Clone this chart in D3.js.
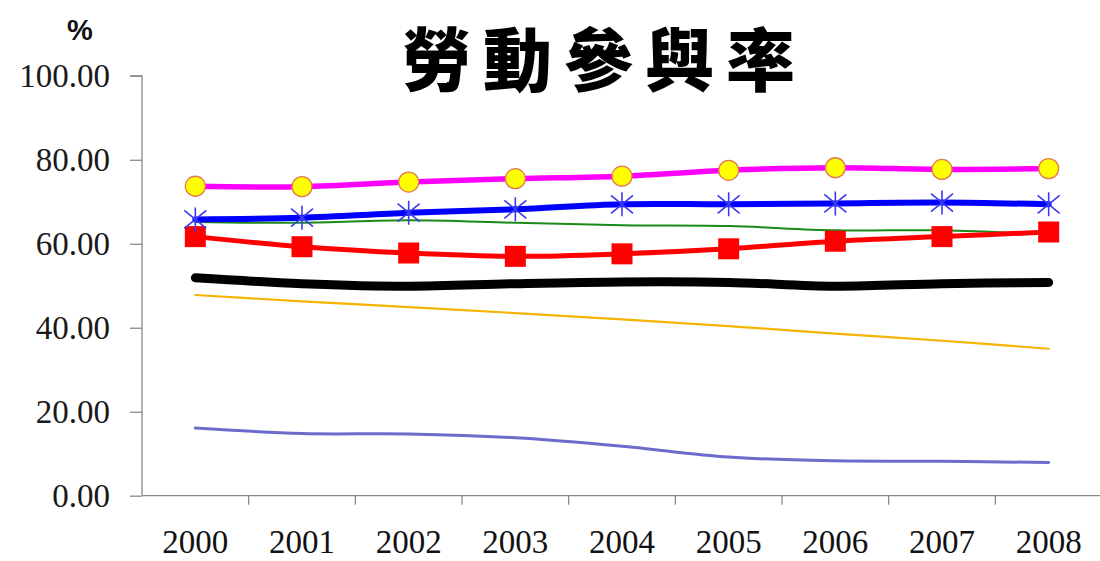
<!DOCTYPE html>
<html>
<head>
<meta charset="utf-8">
<script src="https://cdn.jsdelivr.net/npm/d3@7"></script>
<style>
  html, body { margin: 0; padding: 0; background: #fff; }
  svg { display: block; }
</style>
</head>
<body>
<svg id="chart" width="1100" height="561"></svg>
<script>
// ---- data ----
const years = ["2000", "2001", "2002", "2003", "2004", "2005", "2006", "2007", "2008"];
const yTicks = [0, 20, 40, 60, 80, 100];
const magentaCircle = [73.7, 73.6, 74.7, 75.5, 76.1, 77.5, 78.1, 77.7, 77.9];
const blueStar     = [65.8, 66.2, 67.4, 68.2, 69.4, 69.4, 69.6, 69.8, 69.4];
const greenThin    = [65.2, 65.0, 65.6, 65.0, 64.4, 64.2, 63.2, 63.2, 62.2];
const redSquare    = [61.7, 59.3, 57.8, 57.0, 57.6, 58.8, 60.6, 61.7, 62.8];
const blackThick   = [51.9, 50.5, 49.9, 50.5, 50.9, 50.8, 49.9, 50.5, 50.8];
const orangeThin   = [47.8, 46.3, 44.9, 43.5, 42.0, 40.4, 38.6, 36.9, 35.0];
const purpleThin   = [16.1, 14.8, 14.7, 13.8, 11.8, 9.2, 8.3, 8.2, 7.9];
const titleText = "勞動參與率";
const unitText = "%";

const svg = d3.select("#chart");

const x = d3.scaleBand().domain(years).range([142, 1102]).padding(0);
const y = d3.scaleLinear().domain([0, 100]).range([495.7, 75.8]);
const cx = d => x(d) + x.bandwidth() / 2;

// title
svg.append("text")
  .attr("x", 402).attr("y", 86)
  .attr("font-family", "'Noto Sans CJK TC', 'Noto Sans CJK SC', sans-serif")
  .attr("font-weight", 900)
  .attr("font-size", 69)
  .attr("letter-spacing", 12)
  .attr("fill", "#000")
  .text(titleText);

// unit
svg.append("text")
  .attr("x", 80).attr("y", 40)
  .attr("text-anchor", "middle")
  .attr("font-family", "'Liberation Sans', Arial, sans-serif")
  .attr("font-weight", "bold")
  .attr("font-size", 29)
  .attr("fill", "#111")
  .text(unitText);

// y axis
const yAxis = svg.append("g")
  .attr("transform", "translate(142,0)")
  .call(d3.axisLeft(y).tickValues(yTicks).tickFormat(d3.format(".2f")).tickSize(12).tickPadding(20));
yAxis.selectAll("path, line").attr("stroke", "#8a8a8a").attr("stroke-width", 1.3);
yAxis.selectAll("text")
  .attr("font-family", "'Liberation Serif', 'Times New Roman', serif")
  .attr("font-size", 33)
  .attr("fill", "#1a1a1a");
yAxis.select(".domain").attr("d", `M-12,${y(100)}H0V${y(0)}`);

// x axis
const xAxis = svg.append("g")
  .attr("transform", `translate(0,${y(0)})`)
  .call(d3.axisBottom(x).tickSize(0).tickPadding(0));
xAxis.select(".domain").attr("stroke", "#8a8a8a").attr("stroke-width", 1.3)
  .attr("d", `M142,0H1102`);
xAxis.selectAll("text")
  .attr("dy", null)
  .attr("y", 57)
  .attr("font-family", "'Liberation Serif', 'Times New Roman', serif")
  .attr("font-size", 33)
  .attr("fill", "#111");
// boundary ticks
const bounds = years.slice(1).map(d => x(d));
xAxis.selectAll("line.bound").data(bounds).enter().append("line")
  .attr("class", "bound")
  .attr("x1", d => d).attr("x2", d => d)
  .attr("y1", 0).attr("y2", 9)
  .attr("stroke", "#8a8a8a").attr("stroke-width", 1.3);

// lines
const lineGen = d3.line()
  .x((d, i) => cx(years[i]))
  .y(d => y(d))
  .curve(d3.curveCatmullRom.alpha(0.5));

function drawLine(values, color, width) {
  svg.append("path")
    .datum(values)
    .attr("d", lineGen)
    .attr("fill", "none")
    .attr("stroke", color)
    .attr("stroke-width", width)
    .attr("stroke-linecap", "round")
    .attr("stroke-linejoin", "round");
}

drawLine(purpleThin, "#6b6bcc", 3);
drawLine(orangeThin, "#f4b400", 2.2);
drawLine(blackThick, "#000000", 9);
drawLine(greenThin, "#1a8a1a", 2);
drawLine(redSquare, "#ff0000", 5);
drawLine(blueStar, "#0000ff", 6);
drawLine(magentaCircle, "#ff00ff", 5.5);

// red squares
svg.append("g").selectAll("rect").data(redSquare).enter().append("rect")
  .attr("x", (d, i) => cx(years[i]) - 10.5)
  .attr("y", d => y(d) - 10.5)
  .attr("width", 21).attr("height", 21)
  .attr("fill", "#ff0000");

// blue asterisks
svg.append("g").selectAll("path").data(blueStar).enter().append("path")
  .attr("transform", (d, i) => `translate(${cx(years[i])},${y(d)})`)
  .attr("d", "M0,-12V12M-11,-9L11,9M-11,9L11,-9")
  .attr("fill", "none")
  .attr("stroke", "#3a3af0")
  .attr("stroke-width", 1.6);

// yellow circles
svg.append("g").selectAll("circle").data(magentaCircle).enter().append("circle")
  .attr("cx", (d, i) => cx(years[i]))
  .attr("cy", d => y(d))
  .attr("r", 10)
  .attr("fill", "#ffff00")
  .attr("stroke", "#e07a50")
  .attr("stroke-width", 1.3);
</script>
</body>
</html>
